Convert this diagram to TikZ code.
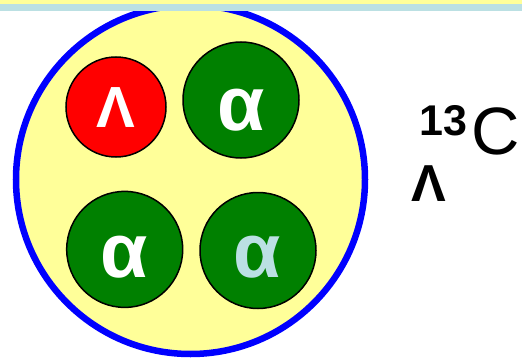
\documentclass[tikz,border=0pt]{standalone}
\usepackage{fontspec}
\setmainfont{Liberation Sans}
\definecolor{paleyellow}{HTML}{FFFF99}
\definecolor{paleblue}{HTML}{BBE0E3}
\definecolor{pgreen}{HTML}{008000}
\begin{document}
\begin{tikzpicture}[x=1pt,y=-1pt,
  nucleus/.style={circle,draw=blue,line width=6.5pt,fill=paleyellow,minimum size=349pt,inner sep=0},
  cluster/.style={circle,draw=black,line width=1.5pt,inner sep=0},
  lam/.style={cluster,fill=red,minimum size=100pt},
  alp/.style={cluster,fill=pgreen,minimum size=116pt},
  lamtxt/.style={inner sep=0,text=white,font=\bfseries\fontsize{58}{60}\selectfont},
  alptxt/.style={inner sep=0,font=\bfseries\fontsize{77}{80}\selectfont},
  lbl/.style={inner sep=0,anchor=base west,text height=0.72em,text depth=0pt}]
\useasboundingbox (0,0) rectangle (522,361);
\node[nucleus] (nuc) at (190.5,179.5) {};
\fill[paleyellow] (0,0) rectangle (522,4);
\fill[paleblue] (0,4) rectangle (522,11);
\node[lam] (c1) at (116,107) {};
\node[alp] (c2) at (241,100) {};
\node[alp] (c3) at (124.7,249.4) {};
\node[alp] (c4) at (258,250.5) {};
\node[lamtxt] (t1) at (116,108) {Λ};
\node[alptxt,text=white] (t2) at (241,110) {α};
\node[alptxt,text=white] (t3) at (124,257.5) {α};
\node[alptxt,text=paleblue] (t4) at (257.5,257.5) {α};
\node[lbl,font=\bfseries\fontsize{43}{45}\selectfont] (n13) at (419,135) {13};
\node[lbl,font=\fontsize{67}{69}\selectfont] (nc) at (471,154) {C};
\node[lbl,font=\bfseries\fontsize{52}{54}\selectfont] (nl) at (411,201.5) {Λ};
\end{tikzpicture}
\end{document}
